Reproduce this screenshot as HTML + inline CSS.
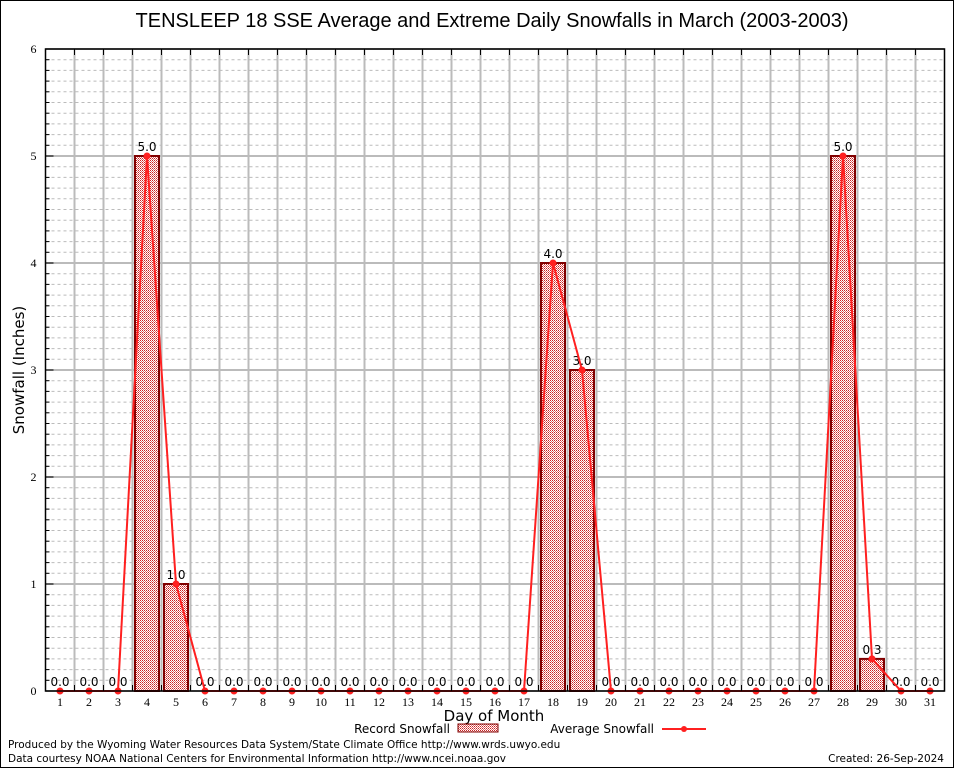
<!DOCTYPE html>
<html><head><meta charset="utf-8"><style>
html,body{margin:0;padding:0;background:#fff}
svg{display:block;font-family:"DejaVu Sans",sans-serif}
</style></head><body>
<svg id="chart" width="954" height="768">
<defs>
<pattern id="chk" width="2" height="2" patternUnits="userSpaceOnUse">
<rect width="2" height="2" fill="#fff"/><rect width="1" height="1" fill="#cc2020"/><rect x="1" y="1" width="1" height="1" fill="#e07070"/>
</pattern>
</defs>
<rect x="0.5" y="0.5" width="953" height="767" fill="#fff" stroke="#000"/>
<text x="492" y="27" font-size="20" text-anchor="middle" font-family="Liberation Sans, sans-serif">TENSLEEP 18 SSE Average and Extreme Daily Snowfalls in March (2003-2003)</text>
<g id="grid"></g>
<g id="bars"></g>
<g id="line"></g>
<g id="axes"></g>
<text x="24" y="370" font-size="15" text-anchor="middle" transform="rotate(-90 24 370)">Snowfall (Inches)</text>
<text x="494" y="721" font-size="15" text-anchor="middle">Day of Month</text>
<g>
<text x="450" y="733" font-size="12" text-anchor="end">Record Snowfall</text>
<rect x="458" y="724" width="40" height="8" fill="url(#chk)" stroke="#800000"/>
<text x="654" y="733" font-size="12" text-anchor="end">Average Snowfall</text>
<line x1="662" y1="729" x2="706" y2="729" stroke="#ff2020" stroke-width="2"/>
<circle cx="684" cy="729" r="3" fill="#ff2020"/>
</g>
<text x="8" y="748" font-size="10.5">Produced by the Wyoming Water Resources Data System/State Climate Office http://www.wrds.uwyo.edu</text>
<text x="8" y="762" font-size="10.5">Data courtesy NOAA National Centers for Environmental Information http://www.ncei.noaa.gov</text>
<text x="944" y="762" font-size="10.5" text-anchor="end">Created: 26-Sep-2024</text>
</svg>
<script>
const days = [1,2,3,4,5,6,7,8,9,10,11,12,13,14,15,16,17,18,19,20,21,22,23,24,25,26,27,28,29,30,31];
const recordSnow = [0,0,0,5,1,0,0,0,0,0,0,0,0,0,0,0,0,4,3,0,0,0,0,0,0,0,0,5,0.3,0,0];
const avgSnow = [0,0,0,5,1,0,0,0,0,0,0,0,0,0,0,0,0,4,3,0,0,0,0,0,0,0,0,5,0.3,0,0];
const yTicks = [0,1,2,3,4,5,6];

const NS='http://www.w3.org/2000/svg';
const L=45.5,R=944.5,T=49,B=691,yMax=6;
const step=(R-L)/days.length;
const xs=d=>L+(d-0.5)*step;
const ys=v=>B-(v/yMax)*(B-T);
function mk(tag,attrs,parent){const e=document.createElementNS(NS,tag);for(const k in attrs)e.setAttribute(k,attrs[k]);parent.appendChild(e);return e;}
const grid=document.getElementById('grid'),bars=document.getElementById('bars'),line=document.getElementById('line'),axes=document.getElementById('axes');
for(let i=1;i<yMax*10;i++){if(i%10===0)continue;const y=ys(i/10);
const g=mk('line',{x1:L,x2:R,y1:y,y2:y,stroke:'#bbb','stroke-dasharray':'3,3'},grid);


const t=mk('line',{x1:L,x2:L+4,y1:y,y2:y,stroke:'#000'},axes);

}
yTicks.forEach(v=>{const y=ys(v);
const g=mk('line',{x1:L,x2:R,y1:y,y2:y,stroke:'#bbb','stroke-width':2},grid);


const tk=mk('line',{x1:L,x2:L+8,y1:y,y2:y,stroke:'#000'},axes);


const t=mk('text',{x:L-9,y:y+4,'font-size':12,'text-anchor':'end','font-family':'Liberation Serif,serif'},axes);t.textContent=v;

});
for(let i=1;i<days.length;i++){const x=L+i*step;
const g=mk('line',{x1:x,x2:x,y1:T,y2:B,stroke:'#bbb','stroke-width':2},grid);


const tk=mk('line',{x1:x,x2:x,y1:T,y2:T+6,stroke:'#000'},axes);


const tb=mk('line',{x1:x,x2:x,y1:B,y2:B-6,stroke:'#000'},axes);

}
const frame=mk('rect',{x:L,y:T,width:R-L,height:B-T,fill:'none',stroke:'#000','stroke-width':1.5},axes);


days.forEach((d,i)=>{const x=xs(d),v=recordSnow[i];
if(v>0){const b=mk('rect',{x:x-12,y:ys(v),width:24,height:B-ys(v),fill:'url(#chk)',stroke:'#800000','stroke-width':2},bars);

}
const lb=mk('text',{x:x,y:ys(v)-5,'font-size':12,'text-anchor':'middle'},bars);lb.textContent=v.toFixed(1);


const xl=mk('text',{x:x,y:B+15,'font-size':12,'text-anchor':'middle','font-family':'Liberation Serif,serif'},axes);xl.textContent=d;

});
const pts=days.map((d,i)=>xs(d)+','+ys(avgSnow[i])).join(' ');
const pl=mk('polyline',{points:pts,fill:'none',stroke:'#ff2020','stroke-width':2},line);


days.forEach((d,i)=>{const c=mk('circle',{cx:xs(d),cy:ys(avgSnow[i]),r:3.5,fill:'#ff2020'},line);

});
</script>
</body></html>
